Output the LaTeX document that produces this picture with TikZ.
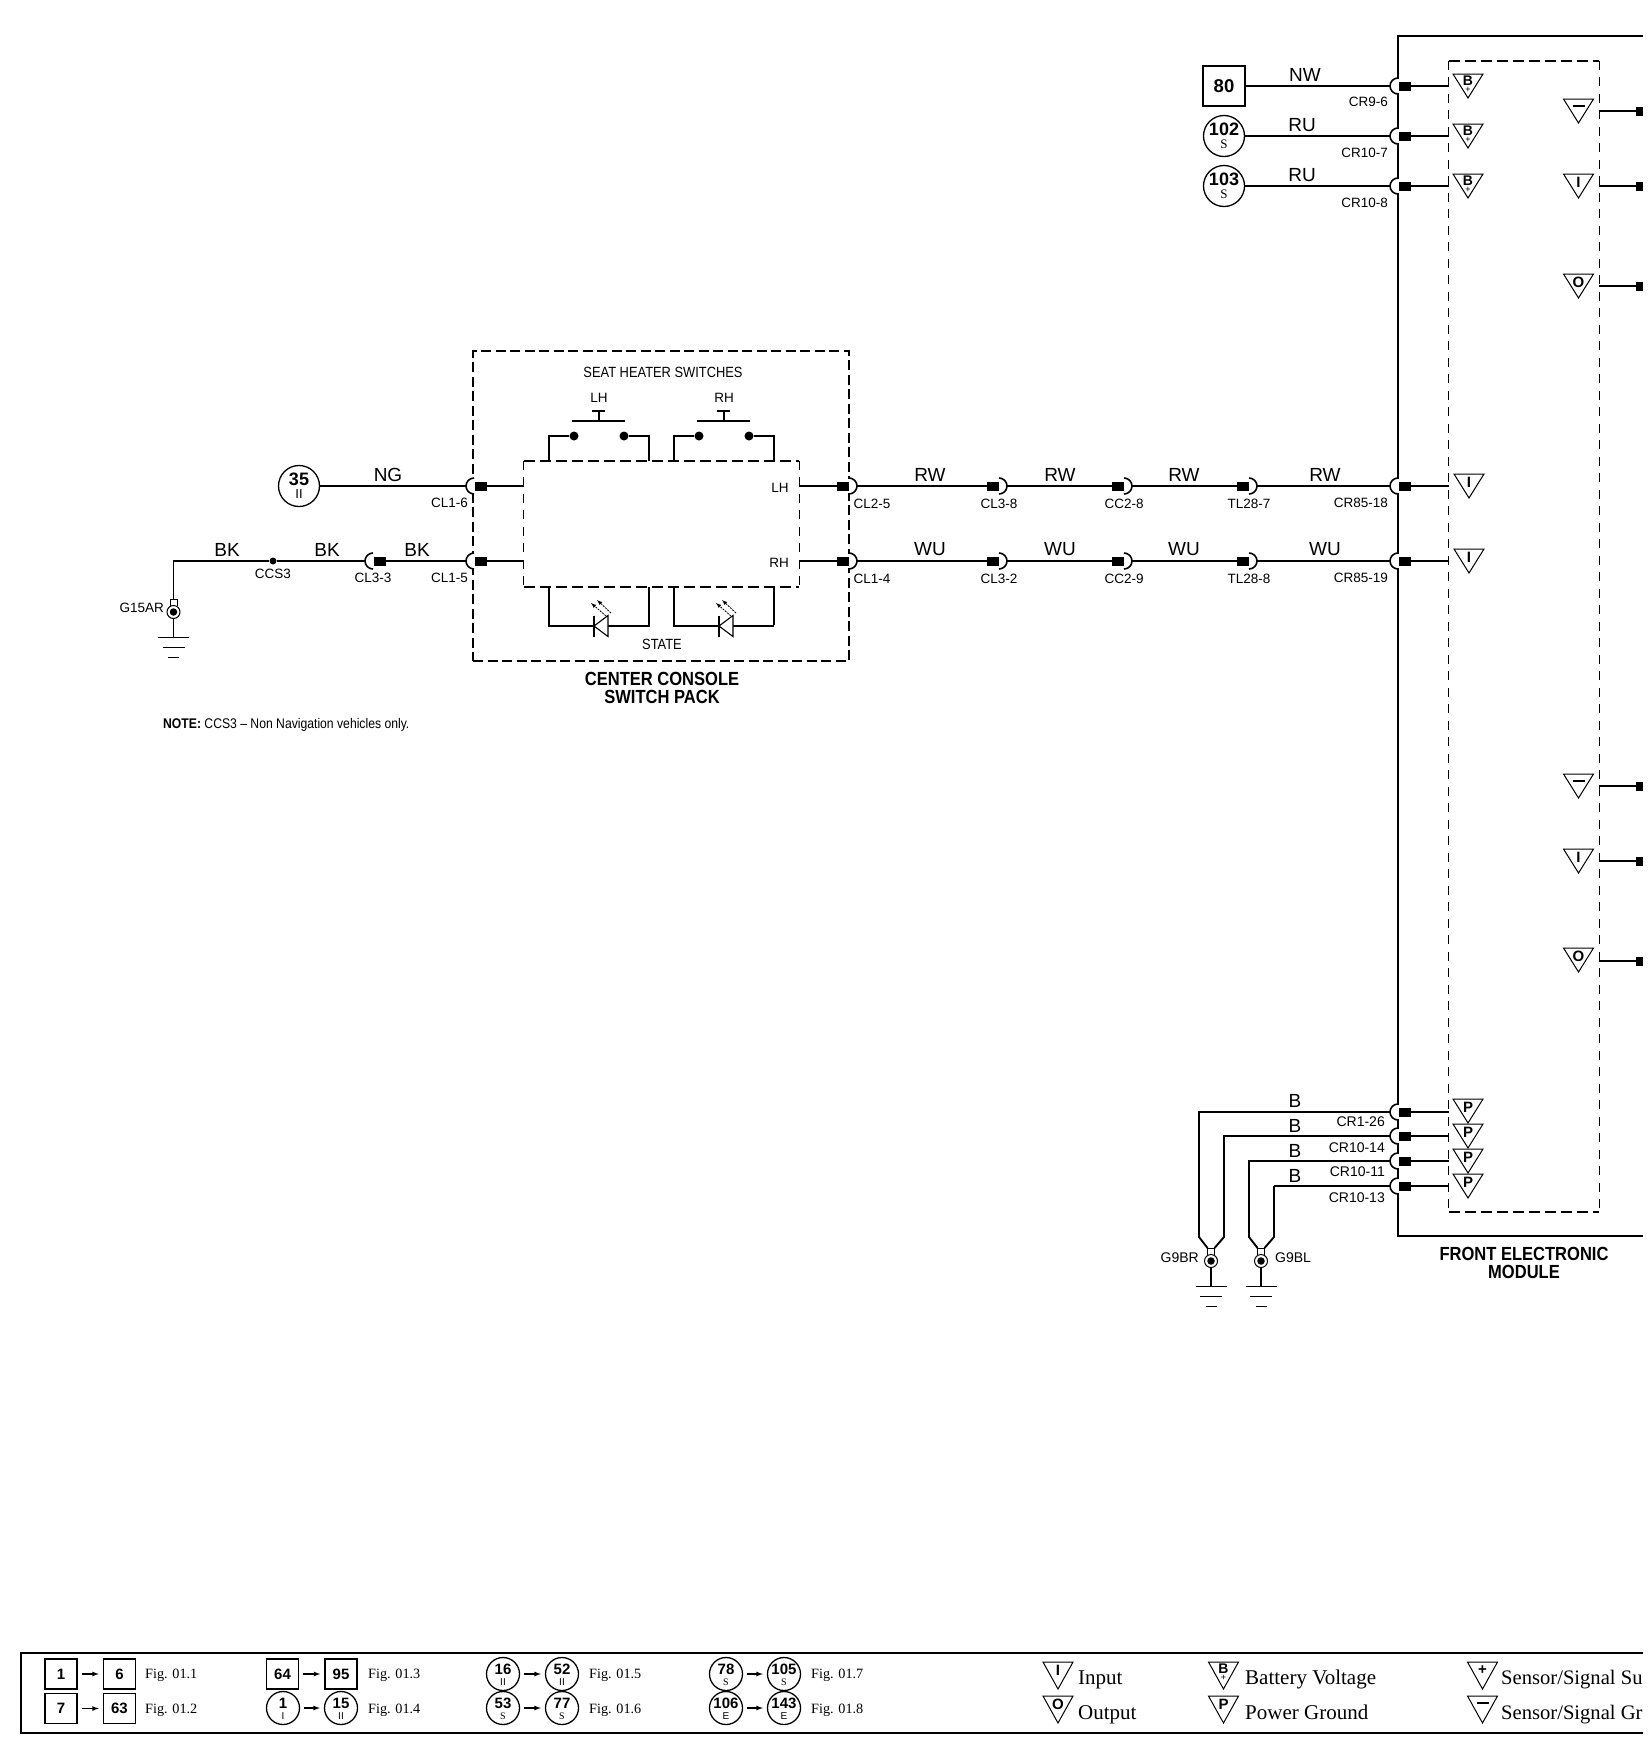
\documentclass[tikz,border=0pt]{standalone}
\usepackage{fontspec}
\setmainfont{Liberation Sans}
\newfontfamily\narrowsf[FakeStretch=0.87]{Liberation Sans}
\newfontfamily\legfont{Liberation Serif}
\usetikzlibrary{arrows}

\begin{document}
\begin{tikzpicture}[x=1pt,y=-1pt]
\tikzset{pintxt/.style={inner sep=0pt,font=\fontsize{13.5}{15}\selectfont}}
\tikzset{pinbig/.style={inner sep=0pt,font=\fontsize{14}{15}\selectfont}}
\tikzset{wiretxt/.style={inner sep=0pt,font=\fontsize{19}{21}\selectfont}}
\tikzset{narrowtxt/.style={inner sep=0pt,align=center,font=\narrowsf\fontsize{14.8}{16}\selectfont}}
\tikzset{titletxt/.style={inner sep=0pt,align=center,font=\narrowsf\bfseries\fontsize{19}{18}\selectfont}}
\tikzset{figtxt/.style={inner sep=0pt,anchor=base west,font=\legfont\fontsize{14.2}{16}\selectfont}}
\tikzset{keytxt/.style={inner sep=0pt,anchor=base west,font=\legfont\fontsize{21}{22}\selectfont}}
\tikzset{wire/.style={line width=1.1pt}}
\tikzset{wirebf/.style={line width=1.9pt}}
\tikzset{modline/.style={line width=2.7pt}}
\tikzset{outerdash/.style={draw,line width=2.5pt,dash pattern=on 10pt off 4.5pt,inner sep=0pt}}
\tikzset{innerbox/.style={inner sep=0pt}}
\tikzset{innerside/.style={line width=.9pt,dash pattern=on 9pt off 7.5pt}}
\tikzset{innertop/.style={line width=1.5pt,dash pattern=on 11pt off 5pt}}
\tikzset{pinbox/.style={fill=black,inner sep=0pt,minimum width=12pt,minimum height=9pt}}
\tikzset{endpin/.style={fill=black,inner sep=0pt,anchor=east,minimum width=7pt,minimum height=9pt}}
\tikzset{dotnode/.style={circle,fill=black,inner sep=0pt,minimum size=#1}}
\tikzset{refbox/.style={draw,line width=1.3pt,inner sep=0pt,minimum width=42pt,minimum height=40pt,font=\bfseries\fontsize{18.5}{20}\selectfont}}
\tikzset{legbox/.style={draw,line width=1.5pt,inner sep=0pt,minimum width=32pt,minimum height=30pt,font=\bfseries\fontsize{15}{16}\selectfont}}
\tikzset{legarrow/.style={line width=1.2pt,-latex,shorten >=4pt,shorten <=4pt}}
\tikzset{sockl/.pic={\fill[white] (-2,-7) rectangle (1.5,7); \draw[line width=1.6pt] (0,-8) arc (270:90:8); \node[pinbox,anchor=west] (-p) at (1,0) {}; \coordinate (-a) at (-8,0);}}
\tikzset{sockr/.pic={\fill[white] (-1.5,-7) rectangle (2,7); \draw[line width=1.6pt] (0,-8) arc (-90:90:8); \node[pinbox,anchor=east] (-p) at (0,0) {}; \coordinate (-a) at (8,0);}}
\tikzset{trisym/.pic={\draw[line width=1pt] (-15,0) -- (15,0) -- (0,24) -- cycle; \node[inner sep=0pt,font=\bfseries\fontsize{15}{16}\selectfont] (-t) at (0,8) {\tikzpictext};}}
\tikzset{trisymb/.pic={\draw[line width=1pt] (-15,0) -- (15,0) -- (0,24) -- cycle; \node[inner sep=0pt,font=\bfseries\fontsize{14}{15}\selectfont] (-t) at (0,6.5) {B}; \node[inner sep=0pt,font=\fontsize{9}{10}\selectfont] (-s) at (0,15.5) {+};}}
\tikzset{trimin/.pic={\draw[line width=1pt] (-15,0) -- (15,0) -- (0,24) -- cycle; \draw[line width=1.7pt] (-6,7) -- (6,7);}}
\tikzset{trikey/.pic={\draw[line width=1pt] (-15,0) -- (15,0) -- (0,27) -- cycle; \node[inner sep=0pt,font=\bfseries\fontsize{15}{16}\selectfont] (-t) at (0,8) {\tikzpictext};}}
\tikzset{trikeyb/.pic={\draw[line width=1pt] (-15,0) -- (15,0) -- (0,27) -- cycle; \node[inner sep=0pt,font=\bfseries\fontsize{14}{15}\selectfont] (-t) at (0,7) {B}; \node[inner sep=0pt,font=\fontsize{9}{10}\selectfont] (-s) at (0,16) {+};}}
\tikzset{trikeymin/.pic={\draw[line width=1pt] (-15,0) -- (15,0) -- (0,27) -- cycle; \draw[line width=1.7pt] (-6,7) -- (6,7);}}
\tikzset{pics/refc/.style 2 args={code={\node[draw,circle,line width=1.3pt,inner sep=0pt,minimum size=41pt] (-c) {}; \node[inner sep=0pt,font=\bfseries\fontsize{18}{20}\selectfont] (-n) at (0,-7) {#1}; \node[inner sep=0pt,font=\fontsize{13}{14}\selectfont] (-s) at (0,8) {#2};}}}
\tikzset{pics/refm/.style 2 args={code={\node[draw,circle,line width=1.3pt,inner sep=0pt,minimum size=33pt] (-c) {}; \node[inner sep=0pt,font=\bfseries\fontsize{15}{16}\selectfont] (-n) at (0,-5) {#1}; \node[inner sep=0pt,font=\fontsize{10}{11}\selectfont] (-s) at (0,8) {#2};}}}
\tikzset{gndsym/.pic={\draw[line width=1pt] (-3.5,-6) -- (-3.5,-13) -- (3.5,-13) -- (3.5,-6); \node[draw,circle,fill=white,line width=1pt,inner sep=0pt,minimum size=13pt] (-r) at (0,0) {}; \node[dotnode=7.5pt] (-d) at (0,0) {}; \draw[line width=1.4pt] (-r) -- (0,25); \draw[line width=1pt] (-15.5,25) -- (15.5,25); \draw[line width=1pt] (-11,35) -- (11,35); \draw[line width=1pt] (-5.5,45) -- (5.5,45); \coordinate (-cl) at (-3.5,-13); \coordinate (-cr) at (3.5,-13);}}

\useasboundingbox (0,0) rectangle (1648,1748);

\draw[modline] (1643,36) -- (1398,36) -- (1398,1236) -- (1643,1236);
\node[innerbox,minimum width=150pt,minimum height=1151pt] (modin) at (1524,636.5) {};
\draw[innerside] (modin.north west) -- (modin.south west);
\draw[innerside] (modin.north east) -- (modin.south east);
\draw[innertop] (modin.north west) -- (modin.north east);
\draw[innertop] (modin.south west) -- (modin.south east);
\node[outerdash,minimum width=376pt,minimum height=310pt] (packout) at (661,506) {};
\node[innerbox,minimum width=275pt,minimum height=126pt] (packin) at (661.5,524) {};
\draw[innerside] (packin.north west) -- (packin.south west);
\draw[innerside] (packin.north east) -- (packin.south east);
\draw[innertop] (packin.north west) -- (packin.north east);
\draw[innertop] (packin.south west) -- (packin.south east);

\node[refbox] (ref80) at (1224,86) {80};
\pic (ref102) at (1224,136) {refc={102}{\legfont S}};
\pic (ref103) at (1224,186) {refc={103}{\legfont S}};
\pic (ref35) at (299,486) {refc={35}{II}};

\pic (cr96) at (1398,86) {sockl};
\pic (cr107) at (1398,136) {sockl};
\pic (cr108) at (1398,186) {sockl};
\pic (cr8518) at (1398,486) {sockl};
\pic (cr8519) at (1398,561) {sockl};
\pic (cr126) at (1398,1112) {sockl};
\pic (cr1014) at (1398,1136) {sockl};
\pic (cr1011) at (1398,1161) {sockl};
\pic (cr1013) at (1398,1186) {sockl};
\pic (cl16) at (474,486) {sockl};
\pic (cl15) at (474,561) {sockl};
\pic (cl33) at (373,561) {sockl};
\pic (cl25) at (849,486) {sockr};
\pic (cl14) at (849,561) {sockr};
\pic (cl38) at (999,486) {sockr};
\pic (cl32) at (999,561) {sockr};
\pic (cc28) at (1124,486) {sockr};
\pic (cc29) at (1124,561) {sockr};
\pic (tl287) at (1249,486) {sockr};
\pic (tl288) at (1249,561) {sockr};

\pic (g15ar) at (173.5,612) {gndsym};
\pic (g9br) at (1211,1261) {gndsym};
\pic (g9bl) at (1261,1261) {gndsym};
\node[dotnode=7pt] (ccs3) at (273,561) {};
\coordinate (bkcorner) at (173.5,561);

\draw[wire] (ref80) -- (cr96-a);
\draw[wire] (ref102-c) -- (cr107-a);
\draw[wire] (ref103-c) -- (cr108-a);
\draw[wire] (cr96-p) -- (cr96-p -| modin.west);
\draw[wire] (cr107-p) -- (cr107-p -| modin.west);
\draw[wire] (cr108-p) -- (cr108-p -| modin.west);
\draw[wire] (ref35-c) -- (cl16-a);
\draw[wire] (cl16-p) -- (cl16-p -| packin.west);
\draw[wirebf] (cl15-p) -- (cl15-p -| packin.west);
\draw[wirebf] (cl15-a) -- (cl33-p);
\draw[wirebf] (cl33-a) -- (ccs3) -- (bkcorner) -- (g15ar-cl -| bkcorner);
\draw[wire] (cl25-p -| packin.east) -- (cl25-p);
\draw[wirebf] (cl14-p -| packin.east) -- (cl14-p);
\draw[wire] (cl25-a) -- (cl38-p);
\draw[wire] (cl38-a) -- (cc28-p);
\draw[wire] (cc28-a) -- (tl287-p);
\draw[wire] (tl287-a) -- (cr8518-a);
\draw[wirebf] (cl14-a) -- (cl32-p);
\draw[wirebf] (cl32-a) -- (cc29-p);
\draw[wirebf] (cc29-a) -- (tl288-p);
\draw[wirebf] (tl288-a) -- (cr8519-a);
\draw[wire] (cr8518-p) -- (cr8518-p -| modin.west);
\draw[wirebf] (cr8519-p) -- (cr8519-p -| modin.west);
\draw[wirebf] (cr126-p) -- (cr126-p -| modin.west);
\draw[wirebf] (cr1014-p) -- (cr1014-p -| modin.west);
\draw[wirebf] (cr1011-p) -- (cr1011-p -| modin.west);
\draw[wire] (cr1013-p) -- (cr1013-p -| modin.west);
\draw[wirebf] (cr126-a) -- (1199,1112) -- (1199,1237) -- (g9br-cl);
\draw[wirebf] (cr1014-a) -- (1224,1136) -- (1224,1237) -- (g9br-cr);
\draw[wirebf] (cr1011-a) -- (1249,1161) -- (1249,1237) -- (g9bl-cl);
\draw[wire] (cr1013-a) -- (1274,1186);
\draw[wirebf] (1274,1186) -- (1274,1237) -- (g9bl-cr);

\node[wiretxt] (lblnw) at (1305,75) {NW};
\node[wiretxt] (lblru1) at (1302,125) {RU};
\node[wiretxt] (lblru2) at (1302,175) {RU};
\node[wiretxt] (lblng) at (388,475) {NG};
\node[wiretxt] (lblbk1) at (227,549.5) {BK};
\node[wiretxt] (lblbk2) at (327,549.5) {BK};
\node[wiretxt] (lblbk3) at (417,549.5) {BK};
\node[wiretxt] (lblrw1) at (930,475) {RW};
\node[wiretxt] (lblrw2) at (1060,475) {RW};
\node[wiretxt] (lblrw3) at (1184,475) {RW};
\node[wiretxt] (lblrw4) at (1325,475) {RW};
\node[wiretxt] (lblwu1) at (930,549.5) {WU};
\node[wiretxt] (lblwu2) at (1060,549.5) {WU};
\node[wiretxt] (lblwu3) at (1184,549.5) {WU};
\node[wiretxt] (lblwu4) at (1325,549.5) {WU};
\node[wiretxt] (lblb1) at (1295,1101) {B};
\node[wiretxt] (lblb2) at (1295,1126) {B};
\node[wiretxt] (lblb3) at (1295,1151) {B};
\node[wiretxt] (lblb4) at (1295,1176) {B};

\node[pintxt,anchor=east] (txtcr96) at (1388,102) {CR9-6};
\node[pintxt,anchor=east] (txtcr107) at (1388,153) {CR10-7};
\node[pintxt,anchor=east] (txtcr108) at (1388,203) {CR10-8};
\node[pintxt,anchor=east] (txtcr8518) at (1388,503) {CR85-18};
\node[pintxt,anchor=east] (txtcr8519) at (1388,578) {CR85-19};
\node[pinbig,anchor=east] (txtcr126) at (1385,1122) {CR1-26};
\node[pinbig,anchor=east] (txtcr1014) at (1385,1148) {CR10-14};
\node[pinbig,anchor=east] (txtcr1011) at (1385,1172) {CR10-11};
\node[pinbig,anchor=east] (txtcr1013) at (1385,1198) {CR10-13};
\node[pintxt,anchor=east] (txtcl16) at (468,503) {CL1-6};
\node[pintxt,anchor=east] (txtcl15) at (468,578) {CL1-5};
\node[pintxt] (txtcl33) at (373,578) {CL3-3};
\node[pintxt] (txtcl25) at (872,504) {CL2-5};
\node[pintxt] (txtcl14) at (872,579) {CL1-4};
\node[pintxt] (txtcl38) at (999,504) {CL3-8};
\node[pintxt] (txtcl32) at (999,579) {CL3-2};
\node[pintxt] (txtcc28) at (1124,504) {CC2-8};
\node[pintxt] (txtcc29) at (1124,579) {CC2-9};
\node[pintxt] (txttl287) at (1249,504) {TL28-7};
\node[pintxt] (txttl288) at (1249,579) {TL28-8};
\node[pintxt] (txtccs3) at (273,574) {CCS3};
\node[pintxt,anchor=east] (txtg15ar) at (164,608) {G15AR};
\node[pinbig,anchor=east] (txtg9br) at (1199,1258) {G9BR};
\node[pinbig,anchor=west] (txtg9bl) at (1275,1258) {G9BL};

\pic (trb1) at (1468,74) {trisymb};
\pic (trb2) at (1468,124) {trisymb};
\pic (trb3) at (1468,174) {trisymb};
\pic[pic text=I] (tri1) at (1469,474) {trisym};
\pic[pic text=I] (tri2) at (1469,549) {trisym};
\pic[pic text=P] (trp1) at (1468,1099) {trisym};
\pic[pic text=P] (trp2) at (1468,1124) {trisym};
\pic[pic text=P] (trp3) at (1468,1149) {trisym};
\pic[pic text=P] (trp4) at (1468,1174) {trisym};
\pic (trg1) at (1578.5,99) {trimin};
\pic[pic text=I] (tri3) at (1578.5,174) {trisym};
\pic[pic text=O] (tro1) at (1578.5,274) {trisym};
\pic (trg2) at (1578.5,774) {trimin};
\pic[pic text=I] (tri4) at (1578.5,849) {trisym};
\pic[pic text=O] (tro2) at (1578.5,948) {trisym};

\node[endpin] (outa) at (1643,111) {};
\node[endpin] (outb) at (1643,186) {};
\node[endpin] (outc) at (1643,286) {};
\node[endpin] (outd) at (1643,786) {};
\node[endpin] (oute) at (1643,861) {};
\node[endpin] (outf) at (1643,961) {};
\draw[wirebf] (outa -| modin.east) -- (outa);
\draw[wire] (outb -| modin.east) -- (outb);
\draw[wire] (outc -| modin.east) -- (outc);
\draw[wire] (outd -| modin.east) -- (outd);
\draw[wirebf] (oute -| modin.east) -- (oute);
\draw[wirebf] (outf -| modin.east) -- (outf);

\node[narrowtxt] (seattxt) at (663,372) {SEAT HEATER SWITCHES};
\node[pintxt] (swlhtxt) at (599,398) {LH};
\node[pintxt] (swrhtxt) at (724,398) {RH};
\node[pintxt] (pinlh) at (780,488) {LH};
\node[pintxt] (pinrh) at (779,563) {RH};
\node[narrowtxt] (statetxt) at (662,644) {STATE};
\node[titletxt] (packtxt) at (662,688) {CENTER CONSOLE\\SWITCH PACK};
\node[titletxt] (modtxt) at (1524,1263) {FRONT ELECTRONIC\\MODULE};
\node[inner sep=0pt,anchor=west,font=\narrowsf\fontsize{14}{15}\selectfont] (notetxt) at (163,725) {\textbf{NOTE:} CCS3 – Non Navigation vehicles only.};

\draw[line width=2pt] (572,421) -- (625,421);
\draw[line width=2pt] (599,421) -- (599,411);
\draw[line width=2pt] (592,411) -- (605,411);
\draw[line width=2pt] (697,421) -- (750,421);
\draw[line width=2pt] (724,421) -- (724,411);
\draw[line width=2pt] (717,411) -- (730,411);
\node[dotnode=9pt] (swla) at (574,436) {};
\node[dotnode=9pt] (swlb) at (624,436) {};
\node[dotnode=9pt] (swra) at (699,436) {};
\node[dotnode=9pt] (swrb) at (749,436) {};
\coordinate (swla1) at (549,461);
\coordinate (swlb1) at (649,461);
\coordinate (swra1) at (674,461);
\coordinate (swrb1) at (774,461);
\draw[wire] (swla) -| (swla1);
\draw[wire] (swlb) -| (swlb1);
\draw[wirebf] (swra) -| (swra1);
\draw[wirebf] (swrb) -| (swrb1);

\coordinate (leda1) at (549,587);
\coordinate (leda2) at (649,587);
\coordinate (ledb1) at (674,587);
\coordinate (ledb2) at (774,587);
\coordinate (leda) at (594,626);
\coordinate (ledb) at (719,626);
\coordinate (ledaw) at (608,626);
\coordinate (ledbw) at (733,626);
\draw[wire] (leda1) -- (549,626) -- (leda);
\draw[wire] (ledaw) -- (649,626) -- (leda2);
\draw[line width=1.1pt] (leda) -- (608,615.5) -- (608,636.5) -- cycle;
\draw[line width=1.5pt] (594,615.5) -- (594,636.5);
\draw[wirebf] (ledb1) -- (674,626) -- (ledb);
\draw[wire] (ledbw) -- (774,626);
\draw[wirebf] (774,625.4) -- (ledb2);
\draw[line width=1.1pt] (ledb) -- (733,615.5) -- (733,636.5) -- cycle;
\draw[line width=1.5pt] (719,615.5) -- (719,636.5);
\draw[line width=.8pt,dashed,dash pattern=on 2pt off 1pt,-latex] (606,616) -- (591,603);
\draw[line width=.8pt,dashed,dash pattern=on 2pt off 1pt,-latex] (611,613) -- (597,600);
\draw[line width=.8pt,dashed,dash pattern=on 2pt off 1pt,-latex] (731,616) -- (716,603);
\draw[line width=.8pt,dashed,dash pattern=on 2pt off 1pt,-latex] (736,613) -- (722,600);

\draw[line width=2.4pt] (1643,1653) -- (21,1653) -- (21,1733) -- (1643,1733);
\node[legbox] (lg1) at (61,1674) {1};
\node[legbox] (lg6) at (119.5,1674) {6};
\node[legbox] (lg7) at (61,1708.5) {7};
\node[legbox] (lg63) at (119.5,1708.5) {63};
\node[legbox] (lg64) at (282.5,1674) {64};
\node[legbox] (lg95) at (341,1674) {95};
\pic (lc1) at (283,1708) {refm={1}{I}};
\pic (lc15) at (341,1708) {refm={15}{II}};
\pic (lc16) at (503,1674) {refm={16}{II}};
\pic (lc52) at (562,1674) {refm={52}{II}};
\pic (lc53) at (503,1708) {refm={53}{\legfont S}};
\pic (lc77) at (562,1708) {refm={77}{\legfont S}};
\pic (lc78) at (726,1674) {refm={78}{\legfont S}};
\pic (lc105) at (784,1674) {refm={105}{\legfont S}};
\pic (lc106) at (726,1708) {refm={106}{E}};
\pic (lc143) at (784,1708) {refm={143}{E}};
\draw[legarrow] (lg1) -- (lg6);
\draw[legarrow] (lg7) -- (lg63);
\draw[legarrow] (lg64) -- (lg95);
\draw[legarrow] (lc1-c) -- (lc15-c);
\draw[legarrow] (lc16-c) -- (lc52-c);
\draw[legarrow] (lc53-c) -- (lc77-c);
\draw[legarrow] (lc78-c) -- (lc105-c);
\draw[legarrow] (lc106-c) -- (lc143-c);
\node[figtxt] (fig1) at (145,1678) {Fig. 01.1};
\node[figtxt] (fig2) at (145,1713) {Fig. 01.2};
\node[figtxt] (fig3) at (368,1678) {Fig. 01.3};
\node[figtxt] (fig4) at (368,1713) {Fig. 01.4};
\node[figtxt] (fig5) at (589,1678) {Fig. 01.5};
\node[figtxt] (fig6) at (589,1713) {Fig. 01.6};
\node[figtxt] (fig7) at (811,1678) {Fig. 01.7};
\node[figtxt] (fig8) at (811,1713) {Fig. 01.8};

\pic[pic text=I] (keyi) at (1058,1662) {trikey};
\pic[pic text=O] (keyo) at (1058,1696) {trikey};
\pic (keyb) at (1223.5,1662) {trikeyb};
\pic[pic text=P] (keyp) at (1223.5,1696) {trikey};
\pic[pic text=+] (keyplus) at (1482.5,1662) {trikey};
\pic (keyminus) at (1482.5,1696) {trikeymin};
\node[keytxt] (txtinput) at (1078,1684) {Input};
\node[keytxt] (txtoutput) at (1078,1719) {Output};
\node[keytxt] (txtbatt) at (1245,1684) {Battery Voltage};
\node[keytxt] (txtpower) at (1245,1719) {Power Ground};
\node[keytxt,font=\legfont\fontsize{20.6}{22}\selectfont] (txtsup) at (1501,1684) {Sensor/Signal Su};
\node[keytxt,font=\legfont\fontsize{20.6}{22}\selectfont] (txtgnd) at (1501,1719) {Sensor/Signal Gr};

\end{tikzpicture}
\end{document}
